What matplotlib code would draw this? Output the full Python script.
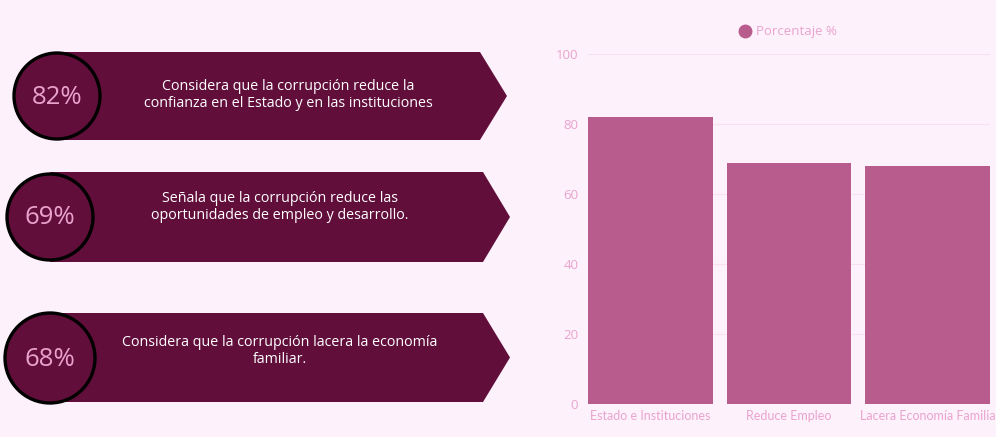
import matplotlib
matplotlib.use("Agg")
import matplotlib.pyplot as plt
from matplotlib.patches import Polygon, Circle
from matplotlib.lines import Line2D

# ---- data ----
categories = ["Estado e Instituciones", "Reduce Empleo", "Lacera Economía Familia"]
values = [82, 69, 68]
banner_texts = [
    "Considera que la corrupción reduce la\nconfianza en el Estado y en las instituciones",
    "Señala que la corrupción reduce las\noportunidades de empleo y desarrollo.",
    "Considera que la corrupción lacera la economía\nfamiliar.",
]
yticks = [0, 20, 40, 60, 80, 100]
legend_label = "Porcentaje %"

BG = "#fdf2fc"
DARK = "#620e3b"
BAR = "#b85c8e"
PINK_TXT = "#eaa3cd"
PCT_TXT = "#e9a2cc"
FONT = ["Open Sans", "DejaVu Sans"]
FONT2 = ["Lato", "DejaVu Sans"]

W, H = 996, 437
fig = plt.figure(figsize=(W / 100, H / 100), dpi=100)
fig.patch.set_facecolor(BG)

# ---- left banners (pixel coordinate overlay) ----
ov = fig.add_axes([0, 0, 1, 1])
ov.set_xlim(0, W)
ov.set_ylim(H, 0)
ov.axis("off")
ov.patch.set_alpha(0)

banners = [
    dict(x0=55, x1=480, tip=507, top=52, bot=140, cx=57, cy=96, r=43, tx=288, ty=95),
    dict(x0=50, x1=483, tip=510, top=172, bot=262, cx=50, cy=217, r=43, tx=280, ty=207),
    dict(x0=50, x1=483, tip=510, top=313, bot=402, cx=50, cy=358, r=45, tx=280, ty=351),
]
for b, v, t in zip(banners, values, banner_texts):
    mid = (b["top"] + b["bot"]) / 2
    poly = Polygon([(b["x0"], b["top"]), (b["x1"], b["top"]), (b["tip"], mid),
                    (b["x1"], b["bot"]), (b["x0"], b["bot"])],
                   closed=True, facecolor=DARK, edgecolor="none", zorder=2)
    ov.add_patch(poly)
    circ = Circle((b["cx"], b["cy"]), b["r"], facecolor=DARK, edgecolor="black",
                  linewidth=2.4, zorder=3)
    ov.add_patch(circ)
    ov.text(b["cx"], b["cy"] + 1, f"{v}%", color=PCT_TXT, fontsize=18.5,
            ha="center", va="center", family=FONT, zorder=4)
    ov.text(b["tx"], b["ty"], t, color="white", fontsize=10.3, ha="center",
            va="center", family=FONT, linespacing=1.2, zorder=4)

# ---- bar chart ----
ax_l, ax_r = 588, 990
ax_t, ax_b = 54, 404
ax = fig.add_axes([ax_l / W, 1 - ax_b / H, (ax_r - ax_l) / W, (ax_b - ax_t) / H])
ax.set_facecolor(BG)
x = list(range(len(categories)))
ax.bar(x, values, width=0.9, color=BAR, zorder=3, label=legend_label)
ax.set_xlim(-0.45, 2.45)
ax.set_ylim(0, 100)
ax.set_yticks(yticks)
ax.set_yticklabels([str(t) for t in yticks], family=FONT, fontsize=9.5, color=PINK_TXT)
ax.set_xticks(x)
ax.set_xticklabels(categories, family=FONT2, fontsize=9, color=PINK_TXT)
ax.tick_params(axis="both", length=0)
ax.tick_params(axis="y", pad=7)
ax.tick_params(axis="x", pad=4)
ax.grid(axis="y", color="#f8e0f0", linewidth=0.8, zorder=0)
for s in ax.spines.values():
    s.set_visible(False)

handle = Line2D([], [], marker="o", linestyle="none", markersize=9,
                markerfacecolor=BAR, markeredgecolor=BAR)
fig.legend([handle], [legend_label], loc="center", bbox_to_anchor=(788 / W, 1 - 32 / H),
           frameon=False, prop={"family": FONT, "size": 9.5}, labelcolor=PINK_TXT,
           handletextpad=0.35, handlelength=1.0)

fig.savefig("out.png", dpi=100, facecolor=BG)
